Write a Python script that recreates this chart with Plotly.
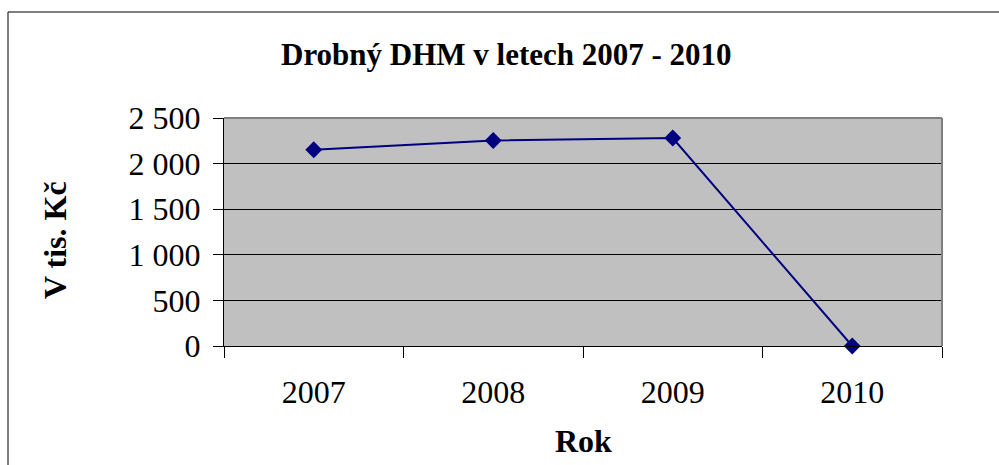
import plotly.graph_objects as go

years = ["2007", "2008", "2009", "2010"]
values = [2152, 2254, 2280, 0]
y_ticks = [0, 500, 1000, 1500, 2000, 2500]

W, H = 999, 465
L, R, T, B = 224, 942, 118, 346  # plot area in pixels
pw, ph = R - L, B - T

def px(x):
    return (x - L) / pw

def py(y):
    return (B - y) / ph

font = "Liberation Serif, Times New Roman, serif"

fig = go.Figure()
fig.add_trace(go.Scatter(
    x=years, y=values, mode="lines+markers",
    line=dict(color="#000080", width=2),
    marker=dict(symbol="diamond", size=13, color="#000080"),
    cliponaxis=False, showlegend=False,
))

fig.update_layout(
    width=W, height=H,
    margin=dict(l=L, r=W - R, t=T, b=H - B, pad=0),
    paper_bgcolor="white", plot_bgcolor="#C0C0C0",
    separators=", ",
    font=dict(family=font, size=32, color="black"),
    showlegend=False,
)

fig.update_xaxes(
    type="category", tickson="boundaries", ticks="outside", ticklen=11,
    tickcolor="black", tickwidth=1, showline=True, linecolor="black", linewidth=1,
    showgrid=False, tickfont=dict(size=32, family=font), ticklabelstandoff=18,
    range=[-0.5, 3.5], fixedrange=True,
)
fig.update_yaxes(
    range=[0, 2500], tickvals=y_ticks, tickformat=",d", ticks="outside", ticklen=10,
    tickcolor="black", tickwidth=1, showline=True, linecolor="black", linewidth=1,
    showgrid=True, gridcolor="black", gridwidth=1, zeroline=False,
    tickfont=dict(size=32, family=font), ticklabelstandoff=6,
)

# gray top/right plot border
fig.add_shape(type="line", xref="paper", yref="paper", x0=0, x1=1, y0=1, y1=1,
              line=dict(color="#808080", width=2), layer="above")
fig.add_shape(type="line", xref="paper", yref="paper", x0=1, x1=1, y0=0, y1=1,
              line=dict(color="#808080", width=2), layer="above")

# outer chart border
fig.add_shape(type="rect", xref="paper", yref="paper",
              x0=px(8), x1=px(1010), y0=py(480), y1=py(12),
              line=dict(color="black", width=1), fillcolor="rgba(0,0,0,0)", layer="above")

fig.add_annotation(text="<b>Drobný DHM v letech 2007 - 2010</b>", xref="paper", yref="paper",
                   x=px(506), y=py(55), showarrow=False, xanchor="center", yanchor="middle",
                   font=dict(size=31, family=font))
fig.add_annotation(text="<b>V tis. Kč</b>", xref="paper", yref="paper", textangle=-90,
                   x=px(55), y=py(240), showarrow=False, xanchor="center", yanchor="middle",
                   font=dict(size=32, family=font))
fig.add_annotation(text="<b>Rok</b>", xref="paper", yref="paper",
                   x=px(583), y=py(441), showarrow=False, xanchor="center", yanchor="middle",
                   font=dict(size=32, family=font))

fig.write_html("out.html", config={"displayModeBar": False},
               post_script="document.body.style.margin='0';document.body.style.padding='0';")
